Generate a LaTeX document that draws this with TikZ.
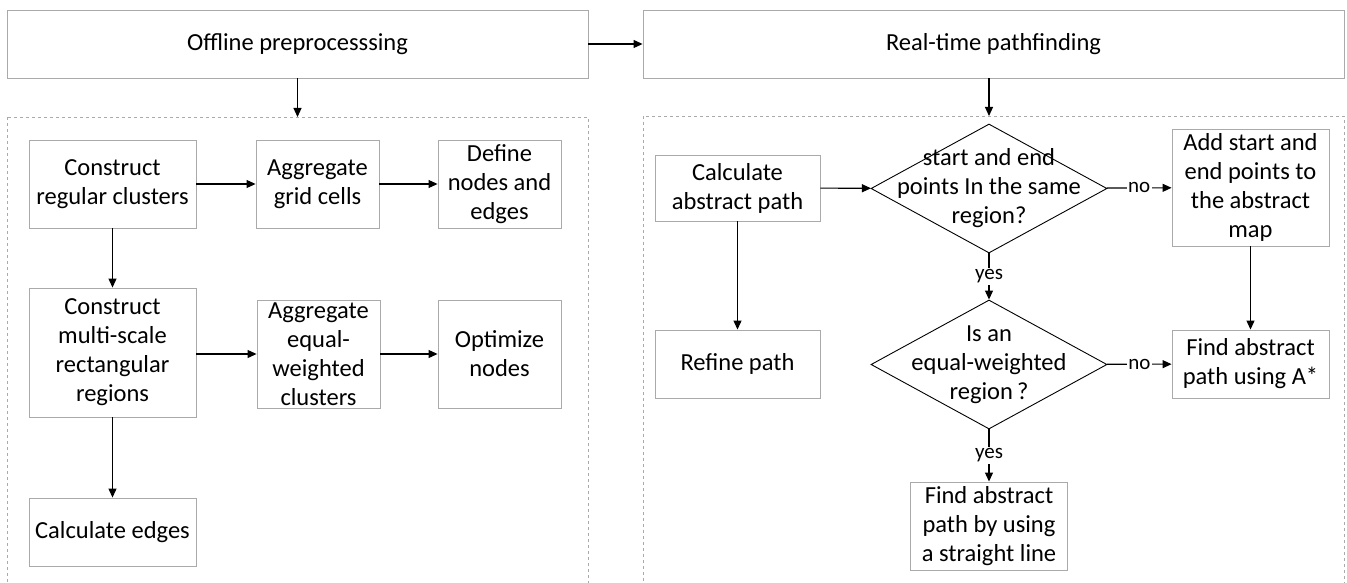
\documentclass[tikz,border=0pt]{standalone}
\usepackage{fontspec}
\setmainfont{Carlito}
\usetikzlibrary{shapes.geometric,arrows.meta}
\definecolor{boxgray}{RGB}{170,170,170}
\tikzset{
  box/.style={draw=boxgray, line width=0.9pt, align=center, inner sep=1pt,
    font=\fontsize{24.5}{29}\selectfont},
  decision/.style={diamond, draw=black, line width=0.9pt, inner sep=0pt},
  arr/.style={line width=1.1pt, -{Triangle[length=9pt,width=8pt]}},
  lbl/.style={fill=white, inner sep=1.5pt, font=\fontsize{21}{24}\selectfont}
}
\begin{document}
\begin{tikzpicture}[x=1pt,y=-1pt]
        \useasboundingbox (0,0) rectangle (1347,583);
        \clip (0,0) rectangle (1347,583);

        % stages
        \node[box, minimum width=581pt, minimum height=68pt] (offline) at (297.5,44) {Offline preprocesssing};
        \node[box, minimum width=701pt, minimum height=68pt] (realtime) at (993.5,44) {Real-time pathfinding};
        \draw[dashed, draw=boxgray, line width=0.8pt] (7,117) rectangle (588,600);
        \draw[dashed, draw=boxgray, line width=0.8pt] (643,116) rectangle (1344,600);
        \coordinate (lftop) at (297.5,117);
        \coordinate (rttop) at (989,116);

        % offline part
        \node[box, minimum width=167pt, minimum height=88pt] (crc) at (112.5,184) {Construct\\regular clusters};
        \node[box, minimum width=123pt, minimum height=88pt] (agc) at (317.5,184) {Aggregate\\grid cells};
        \node[box, minimum width=123pt, minimum height=88pt] (dne) at (499.5,184) {Define\\nodes and\\edges};
        \node[box, minimum width=167pt, minimum height=129pt] (cmr) at (112.5,352.5) {Construct\\multi-scale\\rectangular\\regions};
        \node[box, minimum width=123pt, minimum height=108pt] (aew) at (318.5,354) {Aggregate\\equal-\\weighted\\clusters};
        \node[box, minimum width=123pt, minimum height=108pt] (opt) at (499.5,354) {Optimize\\nodes};
        \node[box, minimum width=167pt, minimum height=68pt] (cae) at (112.5,532) {Calculate edges};

        % real-time part
        \node[box, minimum width=165pt, minimum height=66pt] (cap) at (737.5,188) {Calculate\\abstract path};
        \node[box, minimum width=165pt, minimum height=68pt] (ref) at (737.5,364) {Refine path};
        \node[decision, minimum width=236pt, minimum height=129pt] (sameq) at (989,188.5) {};
        \node[box, draw=none] at (sameq) {start and end\\points In the same\\region?};
        \node[decision, minimum width=236pt, minimum height=129pt] (equalq) at (989,364.5) {};
        \node[box, draw=none] at (equalq) {Is an\\equal-weighted\\region\,?};
        \node[box, minimum width=157pt, minimum height=117pt] (add) at (1250.5,187.5) {Add start and\\end points to\\the abstract\\map};
        \node[box, minimum width=157pt, minimum height=68pt] (astar) at (1250.5,364) {Find abstract\\path using A*};
        \node[box, minimum width=157pt, minimum height=88pt] (line) at (989,526) {Find abstract\\path by using\\a straight line};

        % connectors
        \draw[arr] (offline) -- (realtime);
        \draw[arr] (offline.south) -- (lftop);
        \draw[arr] (realtime.south -| rttop) -- (rttop);
        \draw[arr] (crc) -- (agc);
        \draw[arr] (agc) -- (dne);
        \draw[arr] (crc) -- (cmr);
        \draw[arr] (cmr.east |- aew) -- (aew);
        \draw[arr] (aew) -- (opt);
        \draw[arr] (cmr) -- (cae);
        \draw[arr] (cap) -- (sameq);
        \draw[arr] (cap) -- (ref);
        \draw[arr] (sameq) -- node[lbl]{no} (add);
        \draw[arr] (sameq) -- node[lbl]{yes} (equalq);
        \draw[arr] (add) -- (astar);
        \draw[arr] (equalq) -- node[lbl]{no} (astar);
        \draw[arr] (equalq) -- node[lbl]{yes} (line);
\end{tikzpicture}
\end{document}
